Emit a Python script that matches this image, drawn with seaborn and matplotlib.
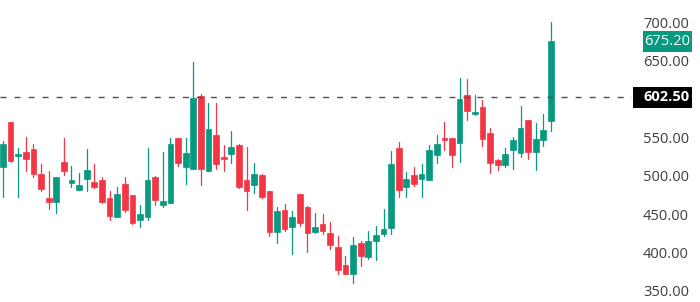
import numpy as np
import pandas as pd
import matplotlib
matplotlib.use("Agg")
import matplotlib.pyplot as plt
import seaborn as sns
from matplotlib.patches import Rectangle
from matplotlib.transforms import blended_transform_factory

# ---- data ----
opens = [512, 570, 526, 531, 535, 503, 471, 466, 518, 491, 482, 496, 492, 495, 471, 447, 489, 475, 442, 446,
         499, 462, 465, 550, 511, 509, 604, 507, 553, 525, 529, 540, 495, 488, 501, 480, 427, 456, 434, 476,
         460, 427, 437, 425, 407, 384, 372, 412, 394, 415, 424, 432, 537, 485, 501, 496, 495, 527, 550, 550,
         543, 606, 581, 590, 556, 521, 514, 534, 530, 573, 531, 547, 571]
highs = [546, 570, 536, 551, 541, 515, 507, 499, 549, 513, 504, 535, 515, 499, 480, 486, 499, 475, 462, 537,
         500, 531, 550, 550, 550, 649, 607, 595, 595, 540, 558, 542, 538, 517, 502, 480, 459, 463, 454, 477,
         461, 451, 450, 440, 421, 396, 420, 415, 428, 435, 457, 533, 544, 505, 511, 515, 540, 553, 570, 550,
         628, 626, 605, 599, 563, 522, 536, 551, 591, 573, 569, 581, 701]
lows = [472, 518, 472, 507, 498, 480, 457, 452, 501, 485, 481, 480, 484, 465, 443, 447, 453, 437, 434, 443,
        462, 460, 465, 513, 489, 509, 488, 507, 509, 507, 517, 484, 455, 478, 471, 421, 413, 428, 398, 435,
        401, 426, 424, 405, 372, 372, 360, 382, 392, 391, 421, 424, 472, 473, 487, 472, 494, 517, 534, 511,
        518, 573, 580, 539, 504, 508, 511, 509, 525, 522, 508, 539, 558]
closes = [542, 519, 528, 522, 503, 483, 466, 498, 507, 495, 488, 508, 486, 466, 448, 476, 456, 438, 450, 495,
          468, 467, 542, 517, 530, 602, 509, 561, 516, 522, 538, 485, 480, 502, 472, 427, 454, 431, 447, 439,
          426, 434, 428, 410, 377, 372, 410, 395, 415, 423, 431, 515, 481, 496, 490, 503, 534, 541, 547, 527,
          600, 585, 583, 548, 517, 514, 528, 547, 563, 531, 548, 560, 675.2]
last_price = 675.20
ref_price = 602.50
y_ticks = [350, 400, 450, 500, 550, 650, 700]

UP = "#089981"
DOWN = "#F23645"

sns.set_theme(style="white")
plt.rcParams["font.family"] = ["Open Sans", "DejaVu Sans"]

n = len(opens)
idx = np.arange(n)
o = np.array(opens, float)
c = np.array(closes, float)
direction = np.where(c >= o, "up", "down")
df = pd.DataFrame({"i": idx, "o": o, "h": highs, "l": lows, "c": c, "d": direction})
df["bottom"] = np.minimum(df["o"], df["c"])
df["height"] = (df["o"] - df["c"]).abs().clip(lower=1.3)

wick = pd.DataFrame({
    "i": np.repeat(idx, 2),
    "y": np.column_stack([lows, highs]).ravel(),
    "d": np.repeat(direction, 2),
})

fig = plt.figure(figsize=(7, 3.02), dpi=100)
ax = fig.add_axes([0, 0, 632 / 700, 1])

sns.lineplot(data=wick, x="i", y="y", units="i", estimator=None, hue="d",
             palette={"up": UP, "down": DOWN}, linewidth=0.9, legend=False,
             sort=False, ax=ax)

for d, col in (("up", UP), ("down", DOWN)):
    sub = df[df["d"] == d]
    sns.barplot(data=sub, x="i", y="height", native_scale=True, width=0.75,
                color=col, saturation=1, errorbar=None,
                bottom=sub["bottom"].to_numpy(), edgecolor=col, linewidth=0.5,
                ax=ax)

ax.axhline(ref_price, color="#505050", lw=1.0, ls=(0, (4.3, 5.8)))

ax.set_xlim(-0.394, 82.65)
ax.set_ylim(335.6, 729.3)
ax.set_xticks([])
ax.set_xlabel("")
ax.set_ylabel("")
ax.yaxis.tick_right()
ax.set_yticks(y_ticks)
ax.set_yticklabels([f"{v:.2f}" for v in y_ticks])
ax.tick_params(axis="y", length=0, pad=7.9, labelsize=10.5, labelcolor="#3d3d3d")
for s in ax.spines.values():
    s.set_visible(False)
ax.grid(False)

trans = blended_transform_factory(fig.transFigure, ax.transData)
box_h = 27.4
fig.add_artist(Rectangle((643 / 700, last_price - box_h / 2), 49 / 700, box_h,
                         transform=trans, facecolor=UP, edgecolor="none",
                         clip_on=False, zorder=2))
fig.add_artist(Rectangle((633 / 700, ref_price - box_h / 2), 59 / 700, box_h,
                         transform=trans, facecolor="#000000", edgecolor="none",
                         clip_on=False, zorder=2))
fig.text(644 / 700, last_price, f"{last_price:.2f}", transform=trans, ha="left", va="center",
         color="white", fontsize=10.5, zorder=5)
fig.text(643 / 700, ref_price, f"{ref_price:.2f}", transform=trans, ha="left", va="center",
         color="white", fontsize=10.5, fontweight="bold", zorder=5)

fig.savefig("out.png", dpi=100)
